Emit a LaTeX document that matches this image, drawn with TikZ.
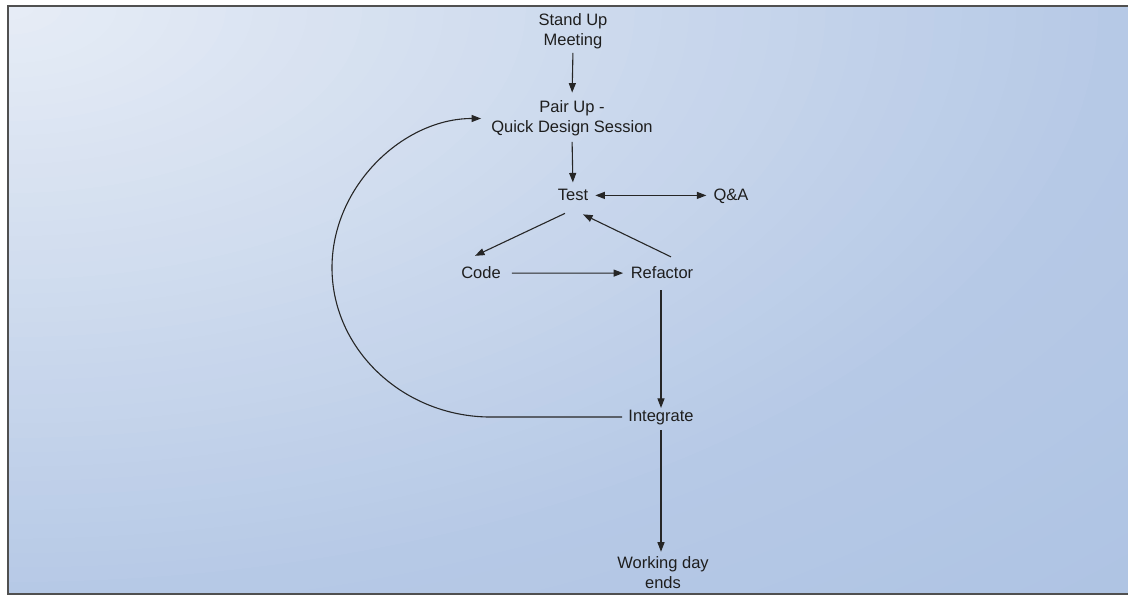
\documentclass[tikz,border=0pt]{standalone}
\usepackage{fontspec}
\setmainfont{Liberation Sans}
\usetikzlibrary{arrows.meta,calc}
\definecolor{bgA}{HTML}{E7EDF6}
\definecolor{bgB}{HTML}{B6C9E6}
\definecolor{bgC}{HTML}{AEC3E3}
\definecolor{ink}{HTML}{1E1E1E}
\definecolor{wire}{HTML}{262626}
\definecolor{frame}{HTML}{505050}
\begin{document}
\begin{tikzpicture}[x=1pt,y=-1pt,
  lbl/.style={font=\fontsize{16.5}{20}\selectfont, text=ink, inner sep=0pt, align=center},
  tip/.style={Triangle[length=9.5pt,width=7pt]},
  arr/.style={draw=wire, line width=1.1pt, -{Triangle[length=9.5pt,width=7pt]}},
  arrboth/.style={draw=wire, line width=1.1pt, {Triangle[length=9.5pt,width=7pt]}-{Triangle[length=9.5pt,width=7pt]}}]
\useasboundingbox (0,0) rectangle (1128,596);
\fill[white] (0,0) rectangle (1128,596);

% soft elliptic background fill spreading from the upper left corner
\begin{scope}
  \clip (8,6) rectangle (1128,594);
  \foreach \i in {60,...,1}{
    \pgfmathsetmacro\d{1.45*\i/60}
    \pgfmathsetmacro\p{min(\d,1)*100}
    \pgfmathsetmacro\q{max(\d-1,0)/0.45*100}
    \colorlet{shadeA}{bgB!\p!bgA}
    \colorlet{shadeB}{bgC!\q!shadeA}
    \fill[shadeB] (8,6) ellipse [x radius=\d*1128pt, y radius=\d*596pt];
  }
\end{scope}
\draw[frame, line width=1.6pt] (8,6) rectangle (1140,594);

% activities
\node[lbl] (stand) at (573,31.5) {Stand Up\\Meeting};
\node[lbl] (pair)  at (572,118.5) {Pair Up -\\Quick Design Session};
\node[lbl, anchor=base] (test)  at (573,201) {Test};
\node[lbl, anchor=base] (qa)    at (731,201) {Q\&A};
\node[lbl, anchor=base] (code)  at (481,279) {Code};
\node[lbl, anchor=base] (refac) at (662,279) {Refactor};
\node[lbl, anchor=base] (integ) at (661,421) {Integrate};
\node[lbl] (ends)  at (663,573) {Working day\\ends};
\coordinate (loopleft) at (332,267.75);

% flow
\draw[arr, shorten <=3.5pt, shorten >=8pt] (stand.south) -- (pair.north);
\draw[arr, shorten <=5.5pt, shorten >=7pt] (pair.south) -- (test.north);
\draw[arrboth, shorten <=7pt, shorten >=7pt] (test.east) -- (test.east -| qa.west);
\draw[arr] ([xshift=-8pt,yshift=-12pt]test.south) -- ([xshift=-6pt,yshift=11pt]code.north);
\draw[arr, shorten <=11pt, shorten >=7.5pt] (code.east) -- (refac.west);
\draw[arr] ([xshift=9pt,yshift=10pt]refac.north) -- ([xshift=10pt,yshift=-13pt]test.south);
\draw[arr, shorten <=11pt, shorten >=1.5pt] (refac.south -| integ.north) -- (integ.north);
\draw[arr, shorten <=5.5pt, shorten >=5pt] (integ.south) -- (integ.south |- ends.north);
% return loop from integration back to the design session
\draw[arr, shorten >=10pt] ([xshift=-6pt]integ.west) -- (pair.west |- integ.west)
  .. controls +(-87.3,0) and +(0,82.3) .. (loopleft)
  .. controls +(0,-82.3) and +(-87.3,0) .. (pair.west);
\end{tikzpicture}
\end{document}
